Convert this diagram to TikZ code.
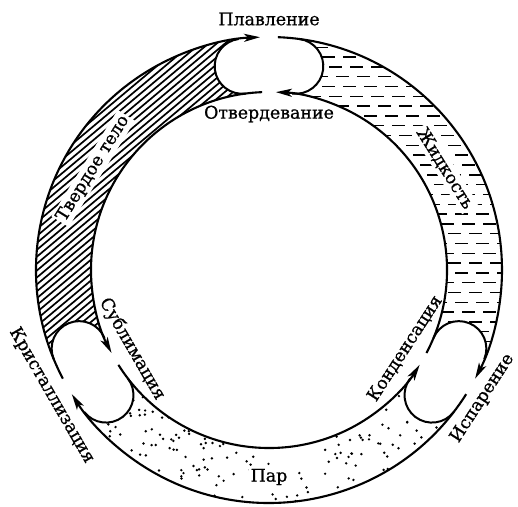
\documentclass[tikz,border=0pt]{standalone}
\usepackage{fontspec}
\setmainfont{DejaVu Serif}
\newfontface\lblfont{DejaVu Serif}[FakeBold=0.8]
\usetikzlibrary{arrows.meta}
\def\Ro{233}\def\Ri{178}\def\Rw{27.5}\def\dd{7.5}\def\ga{2.2}
\newcommand\regionpath[2]{({#1+\dd}:\Ro pt) arc[start angle={#1+\dd}, end angle={#2-\dd}, radius=\Ro pt] arc[start angle={#2-\dd}, delta angle=-180, radius=\Rw pt] arc[start angle={#2-\dd}, end angle={#1+\dd}, radius=\Ri pt] arc[start angle={#1+\dd+180}, delta angle=-180, radius=\Rw pt] -- cycle}
\begin{document}
\begin{tikzpicture}[
  lbl/.style={font=\lblfont\fontsize{17.4}{20}\selectfont, inner sep=1pt},
  statelbl/.style={lbl, fill=white, inner sep=2pt},
  ring/.style={line width=2.1pt},
  endarc/.style={line width=2pt},
  arr/.style={ring, -{Stealth[length=16pt,width=8pt,inset=4pt]}},
  hatch/.style={line width=1.7pt},
  liqdash/.style={line width=1.4pt, dash pattern=on 13pt off 8pt},
]
\fill[white] (-269pt,-236pt) rectangle (249pt,270pt);
\useasboundingbox (-269pt,-236pt) rectangle (249pt,270pt);
% solid hatching
\begin{scope}
\clip \regionpath{90}{210};
\begin{scope}[rotate=40]
\foreach \k in {0,...,140}{\pgfmathsetmacro\c{-360+5.3*\k}\draw[hatch] (-360pt,\c pt) -- (360pt,\c pt);}
\end{scope}
\end{scope}
% liquid dashes
\begin{scope}
\clip \regionpath{330}{450};
\foreach \k in {0,...,40}{\pgfmathsetmacro\yy{-140+9.8*\k}\pgfmathsetmacro\ph{mod(\k*7,21)}\draw[liqdash, dash phase=\ph pt] (-10pt,\yy pt) -- (250pt,\yy pt);}
\end{scope}
% vapour dots
\begin{scope}
\clip \regionpath{210}{330};
\pgfmathsetseed{11}
\foreach \i in {1,...,170}{%
  \pgfmathsetmacro\uu{mod(\i*0.7548777+0.35*rnd,1)}%
  \pgfmathsetmacro\vv{mod(\i*0.5698403+0.35*rnd,1)}%
  \pgfmathsetmacro\aa{205+130*\uu}%
  \pgfmathsetmacro\rr{100*sqrt(1.78*1.78+\vv*(2.33*2.33-1.78*1.78))}%
  \fill (\aa:\rr pt) circle[radius=1.35pt];}
\end{scope}
% state labels
\node[statelbl, rotate=58] (solid) at (150:203pt) {Твердое тело};
\node[statelbl, rotate=-58] (liq) at (30:203pt) {Жидкость};
\node[statelbl] (vap) at (270:207pt) {Пар};
% ring lines with arrows
\foreach \lo/\hi in {90/210, 210/330, 330/450}{
  \draw[arr] ({\hi-\ga}:\Ro pt) arc[start angle={\hi-\ga}, end angle={\lo+\ga}, radius=\Ro pt];
  \draw[arr] ({\lo+\ga}:\Ri pt) arc[start angle={\lo+\ga}, end angle={\hi-\ga}, radius=\Ri pt];
  \draw[endarc] ({\hi-\dd}:\Ro pt) arc[start angle={\hi-\dd}, delta angle=-180, radius=\Rw pt];
  \draw[endarc] ({\lo+\dd}:\Ri pt) arc[start angle={\lo+\dd+180}, delta angle=-180, radius=\Rw pt];
}
% process labels
\node[lbl] (plav) at (90:251pt) {Плавление};
\node[lbl] (otv) at (90:156pt) {Отвердевание};
\node[lbl, rotate=300] (krist) at (210:251pt) {Кристаллизация};
\node[lbl, rotate=300] (subl) at (210:158pt) {Сублимация};
\node[lbl, rotate=57] (isp) at (329:249pt) {Испарение};
\node[lbl, rotate=57] (kond) at (330:157pt) {Конденсация};
\end{tikzpicture}
\end{document}
